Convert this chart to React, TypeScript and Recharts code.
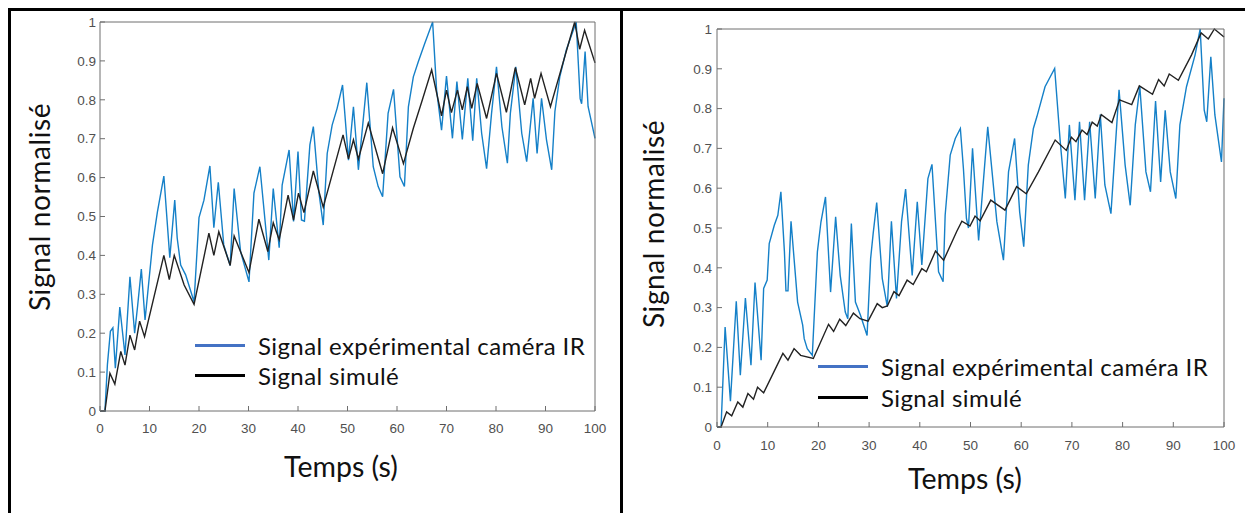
import React from 'react';
import { Line, LineChart, XAxis, YAxis } from 'recharts';

// time axis (s) and normalised signal axis
const timeTicks = [0, 10, 20, 30, 40, 50, 60, 70, 80, 90, 100];
const signalTicks = [0, 0.1, 0.2, 0.3, 0.4, 0.5, 0.6, 0.7, 0.8, 0.9, 1];

const legendLabels = ['Signal expérimental caméra IR', 'Signal simulé'];

// left panel, [time, value]
const leftExperimental: [number, number][] = [
  [0, 0], [1, 0], [1.5, 0.12], [2.1, 0.205], [2.6, 0.214], [3.1, 0.11], [4.0, 0.267], [5.05, 0.144],
  [6.05, 0.345], [7.0, 0.2], [7.6, 0.27], [8.35, 0.365], [9.1, 0.234], [10.6, 0.427], [11.6, 0.512],
  [12.9, 0.604], [14.1, 0.394], [15.1, 0.542], [15.6, 0.444], [16.3, 0.375], [17.3, 0.35], [19.0, 0.281],
  [20.0, 0.497], [21.0, 0.542], [22.2, 0.63], [23.0, 0.471], [23.9, 0.588], [25.0, 0.427], [26.3, 0.374],
  [27.1, 0.572], [28.4, 0.41], [30.1, 0.332], [31.1, 0.56], [32.3, 0.628], [34.1, 0.388], [35.0, 0.572],
  [36.2, 0.42], [36.8, 0.581], [38.2, 0.671], [39.1, 0.487], [40.0, 0.667], [40.7, 0.491], [41.3, 0.488],
  [42.4, 0.684], [43.1, 0.731], [44.2, 0.564], [45.1, 0.478], [45.9, 0.662], [46.9, 0.735], [47.9, 0.778],
  [49.0, 0.838], [50.2, 0.645], [51.2, 0.782], [52.2, 0.62], [53.9, 0.844], [55.2, 0.628], [56.2, 0.577],
  [57.1, 0.551], [58.2, 0.765], [59.3, 0.827], [60.6, 0.602], [61.5, 0.577], [62.3, 0.782], [63.3, 0.859],
  [64.3, 0.898], [65.6, 0.945], [67.2, 1.0], [68.0, 0.825], [69.0, 0.722], [70.0, 0.861], [71.2, 0.701],
  [72.1, 0.847], [73.2, 0.698], [74.3, 0.855], [75.3, 0.695], [76.1, 0.855], [77.1, 0.714], [78.1, 0.623],
  [79.1, 0.765], [80.1, 0.885], [81.2, 0.73], [82.3, 0.637], [82.9, 0.765], [84.0, 0.885], [85.2, 0.714],
  [86.2, 0.641], [87.5, 0.804], [88.3, 0.662], [89.2, 0.804], [90.2, 0.697], [91.25, 0.62], [91.9, 0.77],
  [92.9, 0.86], [94.2, 0.928], [96.2, 1.0], [97.0, 0.803], [97.3, 0.79], [98.0, 0.924], [98.6, 0.783],
  [100, 0.701],
];

const leftSimulated: [number, number][] = [
  [0, 0], [1, 0], [2.0, 0.097], [3.0, 0.069], [4.2, 0.153], [5.05, 0.118], [6.05, 0.195], [7.0, 0.157],
  [8.0, 0.231], [9.0, 0.191], [12.9, 0.4], [14.0, 0.338], [15.0, 0.4], [17.0, 0.324], [19.0, 0.274],
  [22.0, 0.457], [23.0, 0.4], [24.0, 0.461], [26.3, 0.374], [27.1, 0.45], [30.1, 0.356], [32.1, 0.493],
  [33.9, 0.41], [35.0, 0.484], [36.2, 0.44], [38.0, 0.555], [39.1, 0.491], [40.1, 0.56], [41.2, 0.51],
  [43.1, 0.617], [45.1, 0.524], [49.1, 0.71], [50.2, 0.648], [51.2, 0.697], [52.2, 0.648], [54.2, 0.74],
  [57.1, 0.61], [59.1, 0.728], [61.3, 0.636], [63.3, 0.727], [65.0, 0.795], [67.0, 0.877], [69.0, 0.759],
  [70.0, 0.825], [71.0, 0.767], [72.2, 0.825], [73.2, 0.774], [74.2, 0.834], [75.1, 0.778], [76.2, 0.842],
  [78.1, 0.752], [80.1, 0.868], [82.1, 0.768], [83.9, 0.883], [85.8, 0.787], [87.0, 0.855], [87.8, 0.804],
  [89.1, 0.868], [91.0, 0.782], [95.9, 1.0], [96.9, 0.93], [97.9, 0.979], [100, 0.895],
];

// right panel, [time, value]
const rightExperimental: [number, number][] = [
  [0, 0], [0.8, 0], [1.6, 0.251], [2.65, 0.065], [3.8, 0.316], [4.6, 0.13], [5.6, 0.324], [6.7, 0.155],
  [7.5, 0.363], [8.7, 0.168], [9.2, 0.348], [9.9, 0.369], [10.3, 0.461], [11.3, 0.507], [12.0, 0.532],
  [12.6, 0.591], [13.3, 0.44], [13.6, 0.342], [14.0, 0.342], [14.6, 0.517], [15.2, 0.423], [15.9, 0.314],
  [16.9, 0.256], [17.2, 0.222], [17.8, 0.197], [18.8, 0.18], [19.8, 0.44], [20.5, 0.515], [21.4, 0.578],
  [22.4, 0.339], [23.4, 0.528], [24.3, 0.381], [25.3, 0.289], [25.8, 0.272], [26.5, 0.511], [27.3, 0.314],
  [28.3, 0.281], [29.6, 0.23], [30.3, 0.423], [30.8, 0.486], [31.5, 0.564], [32.6, 0.373], [33.6, 0.302],
  [34.4, 0.517], [35.4, 0.323], [36.4, 0.516], [37.2, 0.598], [38.5, 0.381], [39.5, 0.566], [40.4, 0.407],
  [41.6, 0.624], [42.4, 0.66], [43.7, 0.39], [44.6, 0.365], [45.0, 0.532], [46.0, 0.683], [47.0, 0.725],
  [48.0, 0.75], [48.6, 0.65], [49.2, 0.524], [49.6, 0.5], [50.4, 0.7], [51.6, 0.469], [53.4, 0.754],
  [55.2, 0.516], [56.5, 0.419], [57.5, 0.641], [58.7, 0.725], [59.7, 0.54], [60.5, 0.453], [61.4, 0.658],
  [62.4, 0.75], [63.1, 0.78], [64.7, 0.855], [66.6, 0.901], [67.7, 0.717], [68.7, 0.574], [69.5, 0.759],
  [70.6, 0.57], [71.5, 0.767], [72.5, 0.57], [73.5, 0.767], [74.6, 0.574], [75.6, 0.785], [76.5, 0.608],
  [77.7, 0.536], [78.5, 0.692], [79.3, 0.847], [80.5, 0.658], [81.5, 0.557], [82.5, 0.759], [83.4, 0.855],
  [84.6, 0.641], [85.5, 0.591], [86.5, 0.819], [87.5, 0.616], [88.4, 0.796], [89.4, 0.641], [90.5, 0.574],
  [91.3, 0.759], [92.6, 0.855], [94.3, 0.935], [95.3, 1.0], [96.1, 0.796], [96.6, 0.767], [97.4, 0.93],
  [98.2, 0.784], [99.5, 0.666], [100, 0.826],
];

const rightSimulated: [number, number][] = [
  [0, 0], [0.8, 0], [1.9, 0.038], [2.9, 0.028], [4.1, 0.063], [5.1, 0.05], [6.1, 0.084], [7.2, 0.07],
  [8.0, 0.1], [9.2, 0.086], [13.0, 0.185], [14.0, 0.168], [15.2, 0.197], [16.5, 0.18], [19.0, 0.172],
  [22.0, 0.258], [23.0, 0.24], [24.2, 0.271], [25.4, 0.255], [26.9, 0.286], [28.2, 0.272], [29.8, 0.266],
  [31.6, 0.31], [32.6, 0.3], [33.6, 0.304], [34.9, 0.34], [35.9, 0.33], [37.5, 0.369], [38.7, 0.358],
  [40.4, 0.398], [41.3, 0.39], [43.1, 0.442], [44.7, 0.419], [47.3, 0.492], [48.3, 0.517], [49.9, 0.505],
  [50.9, 0.53], [51.9, 0.518], [54.0, 0.57], [56.8, 0.545], [59.1, 0.604], [61.0, 0.586], [63.4, 0.641],
  [66.7, 0.721], [68.9, 0.695], [69.9, 0.728], [70.8, 0.717], [72.0, 0.746], [73.0, 0.735], [74.0, 0.766],
  [75.0, 0.756], [75.8, 0.785], [77.9, 0.765], [79.4, 0.822], [81.8, 0.81], [83.3, 0.857], [85.9, 0.836],
  [87.1, 0.873], [88.2, 0.857], [89.2, 0.887], [91.0, 0.871], [93.6, 0.935], [95.5, 0.99], [96.9, 0.975],
  [98.1, 1.0], [100, 0.98],
];

const BLUE = '#1580c8';
const BLACK = '#222222';
const AXIS = '#6e6e6e';
const TICK_TEXT = '#505050';
const TITLE_FONT = 'Lato, "Open Sans", sans-serif';

const toPoints = (pairs: [number, number][]) => pairs.map(([t, v]) => ({ t, v }));

type PanelProps = {
  x: number;
  width: number;
  height: number;
  margin: { top: number; right: number; bottom: number; left: number };
  xTickMargin: number;
  yTickMargin: number;
  experimental: [number, number][];
  simulated: [number, number][];
};

// top and right axes only carry inward ticks (MATLAB "box on" look)
const NoLabel = () => <g />;

function Panel({ x, width, height, margin, xTickMargin, yTickMargin, experimental, simulated }: PanelProps) {
  const tickStyle = { fill: TICK_TEXT, fontSize: 13.5, fontFamily: '"Liberation Sans", Arial, sans-serif' };
  return (
    <div style={{ position: 'absolute', left: x, top: 0 }}>
      <LineChart width={width} height={height} margin={margin}>
        <XAxis
          xAxisId="bottom"
          dataKey="t"
          type="number"
          domain={[0, 100]}
          ticks={timeTicks}
          interval={0}
          height={30}
          tickSize={-5}
          tickMargin={xTickMargin}
          axisLine={{ stroke: AXIS }}
          tickLine={{ stroke: AXIS }}
          tick={tickStyle}
        />
        <XAxis
          xAxisId="top"
          orientation="top"
          dataKey="t"
          type="number"
          domain={[0, 100]}
          ticks={timeTicks}
          interval={0}
          height={1}
          tickSize={-5}
          axisLine={{ stroke: AXIS }}
          tickLine={{ stroke: AXIS }}
          tick={NoLabel}
        />
        <YAxis
          yAxisId="left"
          type="number"
          domain={[0, 1]}
          ticks={signalTicks}
          interval={0}
          width={60}
          tickSize={-5}
          tickMargin={yTickMargin}
          axisLine={{ stroke: AXIS }}
          tickLine={{ stroke: AXIS }}
          tick={tickStyle}
        />
        <YAxis
          yAxisId="right"
          orientation="right"
          type="number"
          domain={[0, 1]}
          ticks={signalTicks}
          interval={0}
          width={1}
          tickSize={-5}
          axisLine={{ stroke: AXIS }}
          tickLine={{ stroke: AXIS }}
          tick={NoLabel}
        />
        <Line
          xAxisId="bottom"
          yAxisId="left"
          data={toPoints(experimental)}
          dataKey="v"
          stroke={BLUE}
          strokeWidth={1.4}
          dot={false}
          isAnimationActive={false}
        />
        <Line
          xAxisId="bottom"
          yAxisId="left"
          data={toPoints(simulated)}
          dataKey="v"
          stroke={BLACK}
          strokeWidth={1.4}
          dot={false}
          isAnimationActive={false}
        />
      </LineChart>
    </div>
  );
}

function LegendBox({ x, y, gap }: { x: number; y: number; gap: number }) {
  const colors = ['#4472c4', '#000000'];
  return (
    <>
      {legendLabels.map((label, i) => (
        <div
          key={label}
          style={{
            position: 'absolute',
            left: x,
            top: y + i * gap - 15,
            height: 30,
            display: 'flex',
            alignItems: 'center',
            whiteSpace: 'nowrap',
            fontFamily: TITLE_FONT,
            fontSize: 24,
            letterSpacing: 0.4,
            color: '#111',
          }}
        >
          <span style={{ display: 'inline-block', width: 50, height: 3, background: colors[i], marginRight: 13 }} />
          {label}
        </div>
      ))}
    </>
  );
}

function Title({ text, cx, cy, rotate }: { text: string; cx: number; cy: number; rotate?: boolean }) {
  return (
    <div
      style={{
        position: 'absolute',
        left: cx,
        top: cy,
        transform: `translate(-50%, -50%)${rotate ? ' rotate(-90deg)' : ''}`,
        whiteSpace: 'nowrap',
        fontFamily: TITLE_FONT,
        fontSize: rotate ? 28 : 28.5,
        letterSpacing: rotate ? 0.6 : 0,
        color: '#111',
        lineHeight: 1.2,
      }}
    >
      {text}
    </div>
  );
}

export default function App() {
  return (
    <div
      style={{
        position: 'absolute',
        left: 0,
        top: 0,
        width: 1245,
        height: 513,
        background: '#fff',
        overflow: 'hidden',
      }}
    >
      <Panel
        x={0}
        width={620}
        height={513}
        margin={{ top: 21, right: 24, bottom: 72, left: 40 }}
        xTickMargin={17}
        yTickMargin={9}
        experimental={leftExperimental}
        simulated={leftSimulated}
      />
      <Panel
        x={625}
        width={620}
        height={513}
        margin={{ top: 28, right: 20, bottom: 56, left: 32 }}
        xTickMargin={18}
        yTickMargin={10}
        experimental={rightExperimental}
        simulated={rightSimulated}
      />

      <Title text="Signal normalisé" cx={40} cy={207} rotate />
      <Title text="Temps (s)" cx={341} cy={466} />
      <Title text="Signal normalisé" cx={654} cy={224} rotate />
      <Title text="Temps (s)" cx={965} cy={478} />

      <LegendBox x={195} y={345} gap={30} />
      <LegendBox x={818} y={366} gap={31} />

      {/* table borders */}
      <div style={{ position: 'absolute', left: 8, top: 8, width: 1237, height: 3, background: '#000' }} />
      <div style={{ position: 'absolute', left: 8, top: 8, width: 3, height: 505, background: '#000' }} />
      <div style={{ position: 'absolute', left: 620, top: 8, width: 3, height: 505, background: '#000' }} />
    </div>
  );
}
